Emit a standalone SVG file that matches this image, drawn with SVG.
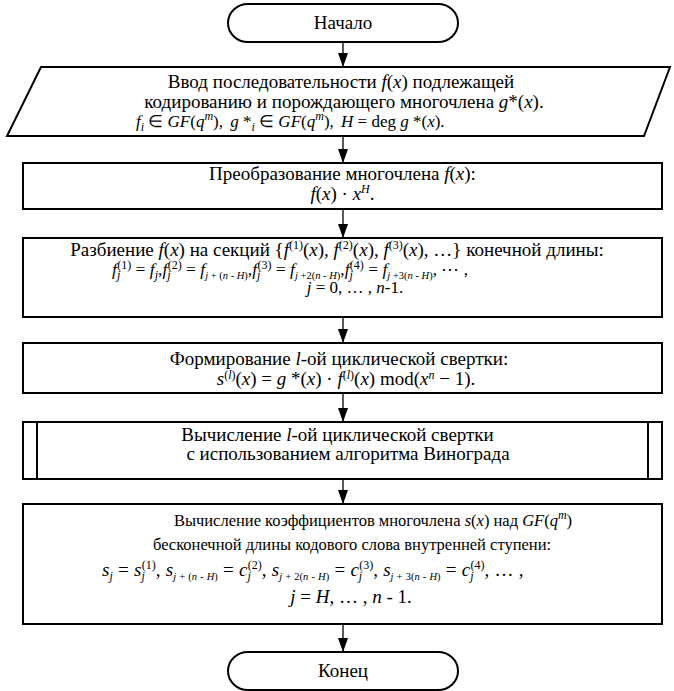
<svg xmlns="http://www.w3.org/2000/svg" width="674" height="691" viewBox="0 0 674 691">
<style>
.t{font-family:"Liberation Serif","Times New Roman",serif;font-size:19px;fill:#000}
.m{font-size:17px}
.p{font-size:16.5px}
.i{font-style:italic}
.sup{font-size:12px;baseline-shift:7px}
.sup2{font-size:12px;baseline-shift:6px}
.sub{font-size:12px;baseline-shift:-4px}
.sb{font-size:10.5px;baseline-shift:-4px}
.shape{fill:#fff;stroke:#000;stroke-width:2}
.conn{stroke:#000;stroke-width:1.3;fill:none}
</style>
<defs>
<marker id="ah" markerUnits="userSpaceOnUse" markerWidth="14" markerHeight="10" refX="14" refY="5" orient="auto">
<path d="M0,0 L14,5 L0,10 z" fill="#000"/>
</marker>
</defs>
<rect width="674" height="691" fill="#fff"/>
<g id="connectors">
<line class="conn" x1="343" y1="42" x2="343" y2="67" marker-end="url(#ah)"/>
<line class="conn" x1="343" y1="136" x2="343" y2="163" marker-end="url(#ah)"/>
<line class="conn" x1="343" y1="209" x2="343" y2="238" marker-end="url(#ah)"/>
<line class="conn" x1="343" y1="317" x2="343" y2="343" marker-end="url(#ah)"/>
<line class="conn" x1="343" y1="393" x2="343" y2="422" marker-end="url(#ah)"/>
<line class="conn" x1="343" y1="479" x2="343" y2="504" marker-end="url(#ah)"/>
<line class="conn" x1="343" y1="624" x2="343" y2="652" marker-end="url(#ah)"/>
</g>
<g id="start">
<rect class="shape" x="228" y="4" width="230" height="38" rx="20" ry="19"/>
<text class="t" x="343" y="29" text-anchor="middle">Начало</text>
</g>
<g id="input">
<polygon class="shape" points="41,67 670,67 644,136 7,136"/>
<text class="t" x="341" y="88" text-anchor="middle">Ввод последовательности <tspan class="i">f</tspan>(<tspan class="i">x</tspan>) подлежащей</text>
<text class="t" x="344" y="108" text-anchor="middle">кодированию и порождающего многочлена <tspan class="i">g</tspan>*(<tspan class="i">x</tspan>).</text>
<text class="t m" x="136" y="127"><tspan class="i">f</tspan><tspan class="sub i">i</tspan> ∈ <tspan class="i">GF</tspan>(<tspan class="i">q</tspan><tspan class="sup i">m</tspan>), <tspan class="i" dx="3">g</tspan> *<tspan class="sub i">i</tspan> ∈ <tspan class="i">GF</tspan>(<tspan class="i">q</tspan><tspan class="sup i">m</tspan>), <tspan class="i" dx="3">H</tspan> = deg <tspan class="i">g</tspan> *(<tspan class="i">x</tspan>).</text>
</g>
<g id="transform">
<rect class="shape" x="23" y="163" width="639" height="46"/>
<text class="t" x="342.5" y="180" text-anchor="middle">Преобразование многочлена <tspan class="i">f</tspan>(<tspan class="i">x</tspan>):</text>
<text class="t" x="342.5" y="200" text-anchor="middle"><tspan class="i">f</tspan>(<tspan class="i">x</tspan>) · <tspan class="i">x</tspan><tspan class="sup i">H</tspan>.</text>
</g>
<g id="split">
<rect class="shape" x="23" y="238" width="639" height="79"/>
<text class="t" x="337" y="256" text-anchor="middle">Разбиение <tspan class="i">f</tspan>(<tspan class="i">x</tspan>) на секций {<tspan class="i">f</tspan><tspan class="sup">(1)</tspan>(<tspan class="i">x</tspan>), <tspan class="i">f</tspan><tspan class="sup">(2)</tspan>(<tspan class="i">x</tspan>), <tspan class="i">f</tspan><tspan class="sup">(3)</tspan>(<tspan class="i">x</tspan>), …} конечной длины:</text>
<text class="t" x="112" y="275" style="font-size:17.5px"><tspan class="i">f</tspan><tspan class="sub i">j</tspan><tspan class="sup2" dx="-3">(1)</tspan> = <tspan class="i">f</tspan><tspan class="sub i">j</tspan>,<tspan class="i">f</tspan><tspan class="sub i">j</tspan><tspan class="sup2" dx="-3">(2)</tspan> = <tspan class="i">f</tspan><tspan class="sb"><tspan class="i">j</tspan> + (<tspan class="i">n</tspan> - <tspan class="i">H</tspan>)</tspan>,<tspan class="i">f</tspan><tspan class="sub i">j</tspan><tspan class="sup2" dx="-3">(3)</tspan> = <tspan class="i">f</tspan><tspan class="sb"><tspan class="i">j</tspan> +2(<tspan class="i">n</tspan> - <tspan class="i">H</tspan>)</tspan>,<tspan class="i">f</tspan><tspan class="sub i">j</tspan><tspan class="sup2" dx="-3">(4)</tspan> = <tspan class="i">f</tspan><tspan class="sb"><tspan class="i">j</tspan> +3(<tspan class="i">n</tspan> - <tspan class="i">H</tspan>)</tspan>, ⋯ ,</text>
<text class="t m" x="355" y="293" text-anchor="middle"><tspan class="i">j</tspan> = 0, … , <tspan class="i">n</tspan>-1.</text>
</g>
<g id="convolution">
<rect class="shape" x="23" y="343" width="639" height="50"/>
<text class="t" x="339" y="365" text-anchor="middle">Формирование <tspan class="i">l</tspan>-ой циклической свертки:</text>
<text class="t" x="346" y="385" text-anchor="middle"><tspan class="i">s</tspan><tspan class="sup2">(<tspan class="i">l</tspan>)</tspan>(<tspan class="i">x</tspan>) = <tspan class="i">g</tspan> *(<tspan class="i">x</tspan>) · <tspan class="i">f</tspan><tspan class="sup2">(<tspan class="i">l</tspan>)</tspan>(<tspan class="i">x</tspan>) mod(<tspan class="i">x</tspan><tspan class="sup2 i">n</tspan> − 1).</text>
</g>
<g id="winograd">
<rect class="shape" x="23" y="422" width="639" height="57"/>
<line class="shape" x1="37" y1="422" x2="37" y2="479"/>
<line class="shape" x1="648" y1="422" x2="648" y2="479"/>
<text class="t" x="337.5" y="441" text-anchor="middle">Вычисление <tspan class="i">l</tspan>-ой циклической свертки</text>
<text class="t" x="348" y="460" text-anchor="middle">с использованием алгоритма Винограда</text>
</g>
<g id="coefficients">
<rect class="shape" x="23" y="504" width="639" height="120"/>
<text class="t p" x="373" y="526" text-anchor="middle">Вычисление коэффициентов многочлена <tspan class="i">s</tspan>(<tspan class="i">x</tspan>) над <tspan class="i">GF</tspan>(<tspan class="i">q</tspan><tspan class="sup i">m</tspan>)</text>
<text class="t p" x="352" y="550" text-anchor="middle">бесконечной длины кодового слова внутренней ступени:</text>
<text class="t" x="102" y="576" style="word-spacing:0.5px"><tspan class="i">s</tspan><tspan class="sub i">j</tspan> = <tspan class="i">s</tspan><tspan class="sub i">j</tspan><tspan class="sup" dx="-3">(1)</tspan>, <tspan class="i">s</tspan><tspan class="sb"><tspan class="i">j</tspan> + (<tspan class="i">n</tspan> - <tspan class="i">H</tspan>)</tspan> = <tspan class="i">c</tspan><tspan class="sub i">j</tspan><tspan class="sup" dx="-3">(2)</tspan>, <tspan class="i">s</tspan><tspan class="sb"><tspan class="i">j</tspan> + 2(<tspan class="i">n</tspan> - <tspan class="i">H</tspan>)</tspan> = <tspan class="i">c</tspan><tspan class="sub i">j</tspan><tspan class="sup" dx="-3">(3)</tspan>, <tspan class="i">s</tspan><tspan class="sb"><tspan class="i">j</tspan> + 3(<tspan class="i">n</tspan> - <tspan class="i">H</tspan>)</tspan> = <tspan class="i">c</tspan><tspan class="sub i">j</tspan><tspan class="sup" dx="-3">(4)</tspan>, … ,</text>
<text class="t" x="351" y="603" text-anchor="middle"><tspan class="i">j</tspan> = <tspan class="i">H</tspan>, … , <tspan class="i">n</tspan> - 1.</text>
</g>
<g id="end">
<rect class="shape" x="228" y="652" width="230" height="38" rx="20" ry="19"/>
<text class="t" x="343" y="677" text-anchor="middle">Конец</text>
</g>
</svg>
